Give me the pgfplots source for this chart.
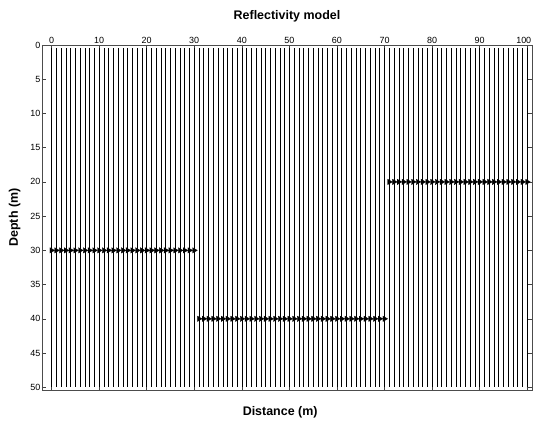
\documentclass[border=0pt]{standalone}
\usepackage{fontspec}
\setmainfont{Liberation Sans}
\usepackage{pgfplots}
\usepackage{pgfplotstable}
\pgfplotsset{compat=1.18}
\pgfplotstableread{
x top len depth
0 0.5 49.5 30
1 0.5 49.5 30
2 0.5 49.5 30
3 0.5 49.5 30
4 0.5 49.5 30
5 0.5 49.5 30
6 0.5 49.5 30
7 0.5 49.5 30
8 0.5 49.5 30
9 0.5 49.5 30
10 0.5 49.5 30
11 0.5 49.5 30
12 0.5 49.5 30
13 0.5 49.5 30
14 0.5 49.5 30
15 0.5 49.5 30
16 0.5 49.5 30
17 0.5 49.5 30
18 0.5 49.5 30
19 0.5 49.5 30
20 0.5 49.5 30
21 0.5 49.5 30
22 0.5 49.5 30
23 0.5 49.5 30
24 0.5 49.5 30
25 0.5 49.5 30
26 0.5 49.5 30
27 0.5 49.5 30
28 0.5 49.5 30
29 0.5 49.5 30
30 0.5 49.5 30
31 0.5 49.5 40
32 0.5 49.5 40
33 0.5 49.5 40
34 0.5 49.5 40
35 0.5 49.5 40
36 0.5 49.5 40
37 0.5 49.5 40
38 0.5 49.5 40
39 0.5 49.5 40
40 0.5 49.5 40
41 0.5 49.5 40
42 0.5 49.5 40
43 0.5 49.5 40
44 0.5 49.5 40
45 0.5 49.5 40
46 0.5 49.5 40
47 0.5 49.5 40
48 0.5 49.5 40
49 0.5 49.5 40
50 0.5 49.5 40
51 0.5 49.5 40
52 0.5 49.5 40
53 0.5 49.5 40
54 0.5 49.5 40
55 0.5 49.5 40
56 0.5 49.5 40
57 0.5 49.5 40
58 0.5 49.5 40
59 0.5 49.5 40
60 0.5 49.5 40
61 0.5 49.5 40
62 0.5 49.5 40
63 0.5 49.5 40
64 0.5 49.5 40
65 0.5 49.5 40
66 0.5 49.5 40
67 0.5 49.5 40
68 0.5 49.5 40
69 0.5 49.5 40
70 0.5 49.5 40
71 0.5 49.5 20
72 0.5 49.5 20
73 0.5 49.5 20
74 0.5 49.5 20
75 0.5 49.5 20
76 0.5 49.5 20
77 0.5 49.5 20
78 0.5 49.5 20
79 0.5 49.5 20
80 0.5 49.5 20
81 0.5 49.5 20
82 0.5 49.5 20
83 0.5 49.5 20
84 0.5 49.5 20
85 0.5 49.5 20
86 0.5 49.5 20
87 0.5 49.5 20
88 0.5 49.5 20
89 0.5 49.5 20
90 0.5 49.5 20
91 0.5 49.5 20
92 0.5 49.5 20
93 0.5 49.5 20
94 0.5 49.5 20
95 0.5 49.5 20
96 0.5 49.5 20
97 0.5 49.5 20
98 0.5 49.5 20
99 0.5 49.5 20
100 0.5 49.5 20
}\data
\begin{document}
\begin{tikzpicture}
\begin{axis}[
  scale only axis, width=490bp, height=345bp,
  xmin=-2, xmax=101, ymin=0, ymax=50.4, y dir=reverse,
  xtick={0,10,...,100}, ytick={0,5,...,50},
  xticklabels={0,10,20,30,40,50,60,70,80,90,\kern-7bp 100},
  xticklabel pos=upper,
  tick align=inside, major tick length=4bp,
  every tick/.style={black!75, line width=0.5bp},
  axis line style={black!70, line width=0.7bp},
  tick label style={font=\fontsize{9}{10}\selectfont, inner sep=1.5bp},
  /pgf/number format/assume math mode=true,
  every axis title/.style={at={(axis description cs:0.5,1)}, anchor=base, yshift=26bp, font=\bfseries\fontsize{12.5}{14}\selectfont},
  every axis x label/.style={at={(axis description cs:0.486,0)}, anchor=base, yshift=-25bp, font=\bfseries\fontsize{12.5}{14}\selectfont},
  every axis y label/.style={at={(axis description cs:0,0.5)}, rotate=90, anchor=base, yshift=24bp, font=\bfseries\fontsize{12.5}{14}\selectfont},
  title={Reflectivity model},
  xlabel={Distance (m)},
  ylabel={Depth (m)},
]
\addplot[draw=none, mark=none, forget plot,
  error bars/.cd, y dir=plus, y explicit, error mark=none,
  error bar style={black, line width=0.55bp}]
  table[x=x, y=top, y error=len] {\data};
\addplot[only marks, mark=triangle*, mark size=3.1bp,
  mark options={rotate=-90, fill=black, draw=black, line width=0.3bp}]
  table[x=x, y=depth] {\data};
\end{axis}
\pgfresetboundingbox
\path (current axis.south west) ++(-42bp,-31bp) rectangle ++(533bp,421bp);
\end{tikzpicture}
\end{document}
